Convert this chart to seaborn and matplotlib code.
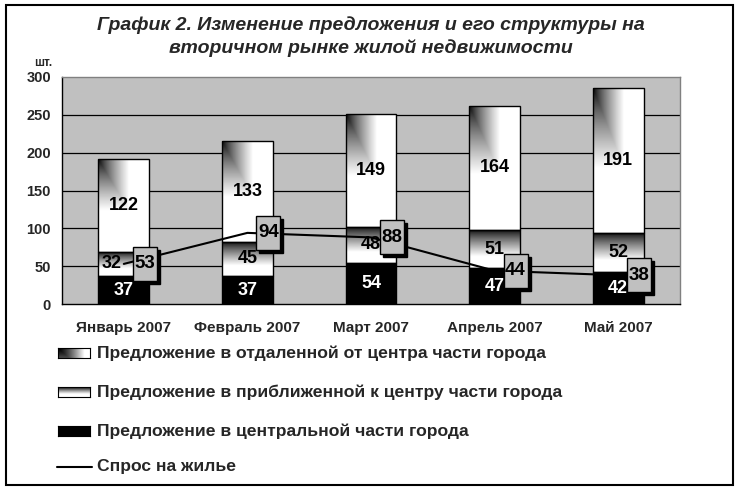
import numpy as np
import seaborn as sns
import matplotlib
matplotlib.use("Agg")
import matplotlib.pyplot as plt
from matplotlib.patches import Rectangle
from matplotlib.lines import Line2D
from matplotlib.transforms import ScaledTranslation

# data
months = ["Январь 2007", "Февраль 2007", "Март 2007", "Апрель 2007", "Май 2007"]
central = [37, 37, 54, 47, 42]
near = [32, 45, 48, 51, 52]
far = [122, 133, 149, 164, 191]
demand = [53, 94, 88, 44, 38]
legend_labels = [
    "Предложение в отдаленной от центра части города",
    "Предложение в приближенной к центру части города",
    "Предложение в центральной части города",
    "Спрос на жилье",
]

W, H = 742, 496
BG = "#c0c0c0"


def fx(px):
    return px / W


def fy(py):
    return 1 - py / H


def far_shade(n=120, m=60, vw=1.0, reach=0.55, gamma=0.75):
    # dark corner at the top left, fading to white
    u = np.linspace(0, 1, m)[None, :]
    v = np.linspace(0, 1, n)[:, None]
    k = np.maximum(u * 0.9, v * vw)
    return np.clip(k / reach, 0, 1) ** gamma


def near_shade(n=120, m=60):
    # dark at the top, white towards the bottom
    v = np.linspace(0, 1, n)[:, None] * np.ones((1, m))
    return np.clip(v / 0.7, 0, 1) ** 0.8


sns.set_style("white")
plt.rcParams["font.family"] = ["Liberation Sans", "DejaVu Sans"]
plt.rcParams["font.weight"] = "bold"

fig = plt.figure(figsize=(W / 100, H / 100), dpi=100)
ax = fig.add_axes([fx(62), fy(304), fx(680) - fx(62), fy(77) - fy(304)])
ax.set_facecolor(BG)

bottom_near = np.array(central)
bottom_far = bottom_near + np.array(near)

# stacked bars
sns.barplot(x=months, y=central, color="black", width=0.41, edgecolor="black",
            linewidth=1, ax=ax, zorder=3)
sns.barplot(x=months, y=near, bottom=bottom_near, color="white", width=0.41,
            edgecolor="black", linewidth=1, ax=ax, zorder=3)
near_bars = list(ax.containers[-1])
sns.barplot(x=months, y=far, bottom=bottom_far, color="white", width=0.41,
            edgecolor="black", linewidth=1, ax=ax, zorder=3)
far_bars = list(ax.containers[-1])

# gradient fills clipped to the bar shapes
for bars, shade in [(near_bars, near_shade), (far_bars, far_shade)]:
    for p in bars:
        x0, y0, w, h = p.get_x(), p.get_y(), p.get_width(), p.get_height()
        im = ax.imshow(shade(), cmap="gray", vmin=0, vmax=1, origin="upper",
                       extent=(x0, x0 + w, y0, y0 + h), aspect="auto",
                       zorder=2.5, interpolation="bilinear")
        im.set_clip_path(p)
        p.set_facecolor("none")

# demand line
xs = np.arange(len(months))
sns.lineplot(x=xs, y=demand, color="black", linewidth=1.5, ax=ax, zorder=4,
             legend=False)

ax.set_xlim(-0.5, len(months) - 0.5)
ax.set_ylim(0, 300)
ax.set_yticks(range(0, 301, 50))
ax.set_xticks(np.arange(-0.5, len(months), 1.0))
ax.set_xticklabels([])
ax.set_xticks(xs, minor=True)
ax.set_xticklabels(months, minor=True)
ax.tick_params(axis="x", which="major", length=5, width=1, color="black")
ax.tick_params(axis="x", which="minor", length=0, pad=12, labelsize=11)
ax.tick_params(axis="y", length=5, width=1, color="black", labelsize=10.5, pad=3)
for lab in ax.get_xticklabels(minor=True) + ax.get_yticklabels():
    lab.set_fontweight("bold")
ax.set_xlabel("")
ax.set_ylabel("")
for y in range(50, 300, 50):
    ax.axhline(y, color="black", linewidth=0.9, zorder=1)
for s in ["left", "bottom"]:
    ax.spines[s].set_color("black")
    ax.spines[s].set_linewidth(1)
for s in ["top", "right"]:
    ax.spines[s].set_color("#808080")
    ax.spines[s].set_linewidth(1)

# segment labels
for i in range(len(months)):
    ax.text(i, central[i] / 2, str(central[i]), ha="center", va="center",
            color="white", fontsize=13, fontweight="bold", zorder=5)
    nx = i - 0.1 if i == 0 else i
    ax.text(nx, bottom_near[i] + near[i] / 2, str(near[i]), ha="center",
            va="center", color="black", fontsize=13, fontweight="bold", zorder=5)
    ax.text(i, bottom_far[i] + far[i] / 2, str(far[i]), ha="center", va="center",
            color="black", fontsize=13, fontweight="bold", zorder=5)

# demand value boxes with shadow
bw, bh, off, sh = 24 / 100, 34 / 100, 21 / 100, 3 / 100
for i, d in enumerate(demand):
    tr = fig.dpi_scale_trans + ScaledTranslation(i, d, ax.transData)
    ax.add_patch(Rectangle((off - bw / 2 + sh, -bh / 2 - sh), bw, bh,
                           facecolor="black", edgecolor="black", transform=tr,
                           zorder=6, clip_on=False))
    ax.add_patch(Rectangle((off - bw / 2, -bh / 2), bw, bh, facecolor=BG,
                           edgecolor="black", linewidth=1, transform=tr,
                           zorder=6.5, clip_on=False))
    ax.text(off, 0, str(d), transform=tr, ha="center", va="center",
            color="black", fontsize=13.5, fontweight="bold", zorder=7)

# unit label
fig.text(fx(43), fy(63), "шт.", ha="center", va="center", fontsize=8.5,
         fontweight="bold")

# title
fig.text(0.5, fy(25), "График 2. Изменение предложения и его структуры на",
         ha="center", va="center", fontsize=14, fontweight="bold", style="italic")
fig.text(0.5, fy(48), "вторичном рынке жилой недвижимости",
         ha="center", va="center", fontsize=14, fontweight="bold", style="italic")

# legend drawn below the plot
rows = [353, 392, 431, 467]
shades = [far_shade(20, 60, vw=0.3, reach=0.75, gamma=1.3),
          near_shade(20, 60), np.zeros((20, 60)), None]
for label, yrow, shade in zip(legend_labels, rows, shades):
    if shade is not None:
        lax = fig.add_axes([fx(58), fy(yrow + 5), fx(90) - fx(58), 10 / H])
        lax.imshow(shade, cmap="gray", vmin=0, vmax=1, aspect="auto",
                   interpolation="bilinear")
        lax.set_xticks([])
        lax.set_yticks([])
        for s in lax.spines.values():
            s.set_color("black")
            s.set_linewidth(0.8)
    else:
        fig.add_artist(Line2D([fx(57), fx(92)], [fy(yrow), fy(yrow)],
                              color="black", linewidth=1.5))
    fig.text(fx(97), fy(yrow), label, ha="left", va="center", fontsize=12.6,
             fontweight="bold")

# outer frame
fig.add_artist(Rectangle((fx(6), fy(485)), fx(733) - fx(6), fy(5) - fy(485),
                         transform=fig.transFigure, fill=False,
                         edgecolor="black", linewidth=1.5))

fig.savefig("out.png", dpi=100, facecolor="white")
